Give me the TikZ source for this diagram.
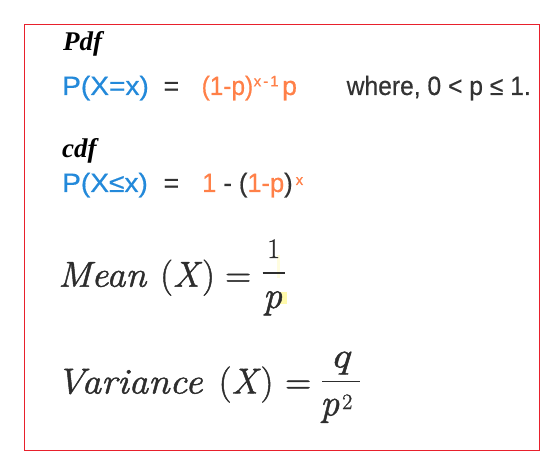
\documentclass[tikz,border=0pt]{standalone}
\usepackage{fontspec}
\usepackage{graphicx}
\newfontfamily\sansf[FakeBold=0.5]{Liberation Sans}
\newfontfamily\seriff{Liberation Serif}
\newfontfamily\cmf[FakeBold=1.2]{Latin Modern Roman}
\definecolor{myblue}{RGB}{35,137,218}
\definecolor{myorange}{RGB}{255,128,72}
\definecolor{mygray}{RGB}{51,51,51}
\definecolor{myred}{RGB}{232,32,44}
\definecolor{eqgray}{RGB}{45,45,45}
\begin{document}
\begin{tikzpicture}[x=1pt,y=-1pt,
  txt/.style={inner sep=0pt, anchor=base west},
  head/.style={txt, font=\seriff\bfseries\itshape\fontsize{27}{30}\selectfont},
  sans/.style={txt, font=\sansf\fontsize{26.5}{30}\selectfont},
  supr/.style={txt, text=myorange, font=\sansf\fontsize{15}{17}\selectfont},
  mth/.style={txt, text=eqgray, font=\cmf\fontsize{36}{40}\selectfont},
  bar/.style={eqgray, line width=1.6pt}]
\useasboundingbox (0,0) rectangle (552,468);
\fill[white] (0,0) rectangle (552,468);
\draw[myred, line width=1.2pt] (24.3,24.3) rectangle (539.3,450.3);
% Pdf
\node[head] (pdf) at (63,51) {Pdf};
\node[sans, text=myblue] (l1a) at (62,95) {\scalebox{1.06}[1]{P(X=x)}};
\node[sans, text=mygray] (l1eq) at (163.5,95) {=};
\node[sans, text=myorange] (l1b) at (201.5,95) {\scalebox{0.92}[1]{(1-p)}};
\node[supr] (l1sup) at (253.5,86.3) {x\hspace{2pt}-\hspace{2pt}1};
\node[sans, text=myorange] (l1p) at (282,95) {p};
\node[sans, text=mygray] (l1w) at (346.5,95) {\scalebox{0.93}[1]{where, 0 < p ≤ 1.}};
% cdf
\node[head] (cdf) at (62,158) {cdf};
\node[sans, text=myblue] (l2a) at (62,192) {\scalebox{1.06}[1]{P(X≤x)}};
\node[sans, text=mygray] (l2eq) at (163.5,192) {=};
\node[sans, text=mygray] (l2b) at (202,192) {\scalebox{0.96}[1]{\textcolor{myorange}{1} - (\textcolor{myorange}{1-p})}};
\node[supr] (l2sup) at (295.5,185) {x};
% highlight marks
\fill[yellow!20, opacity=0.6] (277,255) rectangle (280,278);
\fill[yellow!55, opacity=0.6] (279,292) rectangle (287,304);
% Mean
\node[mth] (mean) at (58,286.7) {\scalebox{1.05}[1]{\itshape Mean}};
\node[mth] (meanx) at (160,286.7) {(\textit{X})};
\node[mth] (meaneq) at (225,286.7) {=};
\draw[bar] (262.7,273) -- (284.7,273);
\node[txt, anchor=base, text=eqgray, font=\cmf\fontsize{28}{32}\selectfont] (mnum) at (273.7,258) {1};
\node[txt, anchor=base, text=eqgray, font=\cmf\itshape\fontsize{38}{42}\selectfont] (mden) at (272.5,308) {p};
% Variance
\node[mth] (var) at (56,393.5) {\scalebox{1.08}[1]{\itshape Variance}};
\node[mth] (varx) at (218.5,393.5) {(\textit{X})};
\node[mth] (vareq) at (285,393.5) {=};
\draw[bar] (322,381.3) -- (360,381.3);
\node[txt, anchor=base, text=eqgray, font=\cmf\itshape\fontsize{36}{40}\selectfont] (vnum) at (340,367.5) {\scalebox{1.2}[1]{q}};
\node[txt, text=eqgray, font=\cmf\itshape\fontsize{38}{42}\selectfont] (vden) at (320,415.5) {p};
\node[txt, text=eqgray, font=\cmf\fontsize{22}{26}\selectfont] (vsup) at (342,409) {2};
\end{tikzpicture}
\end{document}
